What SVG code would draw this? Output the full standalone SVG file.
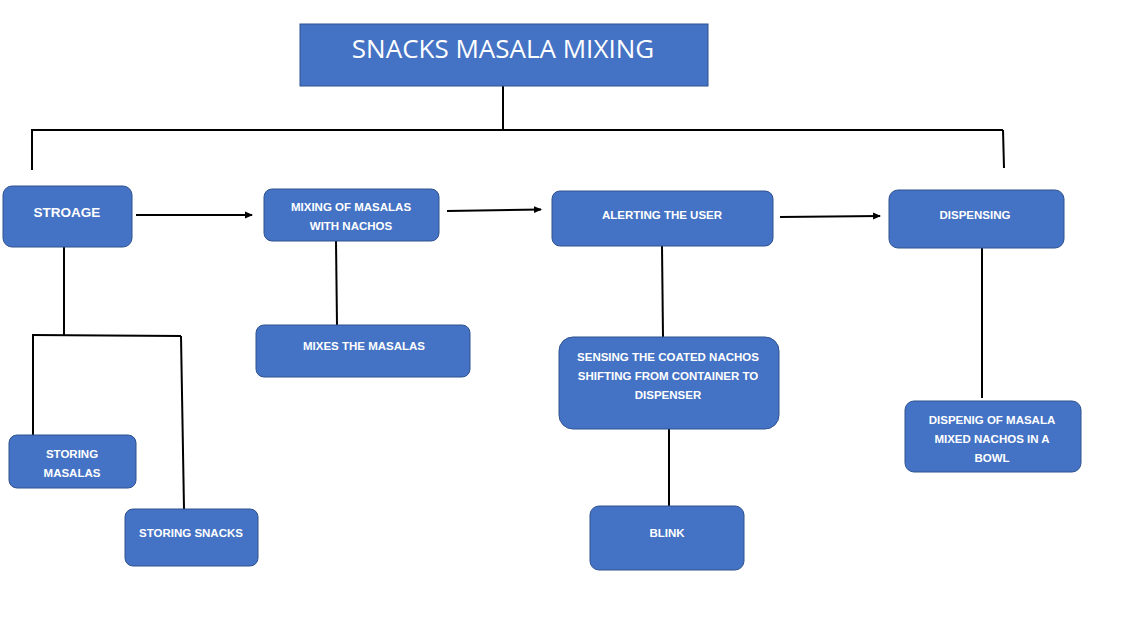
<svg xmlns="http://www.w3.org/2000/svg" width="1138" height="632" viewBox="0 0 1138 632">
<defs>
<style>
.box{fill:#4472c4;stroke:#2f528f;stroke-width:1}
.t{font-family:"Liberation Sans",Arial,sans-serif;font-weight:bold;font-size:11.5px;fill:#fff;text-anchor:middle}
.big{font-size:13.5px}
.title{font-family:"Open Sans","Liberation Sans",sans-serif;font-size:26px;fill:#fff;text-anchor:middle}
.ln{stroke:#000;stroke-width:2;fill:none}
</style>
<marker id="ah" markerWidth="8" markerHeight="8" refX="7" refY="4" orient="auto" markerUnits="userSpaceOnUse">
<path d="M0,0.5 L8,4 L0,7.5 Z" fill="#000"/>
</marker>
</defs>
<rect width="1138" height="632" fill="#fff"/>
<g id="connectors">
<path class="ln" d="M503,86 V129"/>
<path class="ln" d="M31,130 H1003"/>
<path class="ln" d="M32,130 V170"/>
<path class="ln" d="M1003,130 L1004,168"/>
<path class="ln" d="M136,215 H252" marker-end="url(#ah)"/>
<path class="ln" d="M447,211 L541,209.5" marker-end="url(#ah)"/>
<path class="ln" d="M780,217 L880,216" marker-end="url(#ah)"/>
<path class="ln" d="M64,247 V335"/>
<path class="ln" d="M32,335 L181,336"/>
<path class="ln" d="M33,335 V435"/>
<path class="ln" d="M181,336 L184,509"/>
<path class="ln" d="M336,241 L337,325"/>
<path class="ln" d="M662,246 L663,337"/>
<path class="ln" d="M669,429 V507"/>
<path class="ln" d="M982,248 V398"/>
</g>
<g id="title">
<rect class="box" x="300" y="24" width="408" height="62"/>
<text class="title" x="503" y="58">SNACKS MASALA MIXING</text>
</g>
<g id="storage">
<rect class="box" x="3" y="186" width="129" height="61" rx="9"/>
<text class="t big" x="67" y="217">STROAGE</text>
</g>
<g id="mixing">
<rect class="box" x="264" y="189" width="175" height="52" rx="8"/>
<text class="t" x="351" y="211">MIXING OF MASALAS</text>
<text class="t" x="351" y="230">WITH NACHOS</text>
</g>
<g id="alerting">
<rect class="box" x="552" y="191" width="221" height="55" rx="8"/>
<text class="t" x="662" y="219">ALERTING THE USER</text>
</g>
<g id="dispensing">
<rect class="box" x="889" y="190" width="175" height="58" rx="9"/>
<text class="t" x="975" y="219">DISPENSING</text>
</g>
<g id="storing-masalas">
<rect class="box" x="9" y="435" width="127" height="53" rx="8"/>
<text class="t" x="72" y="458">STORING</text>
<text class="t" x="72" y="477">MASALAS</text>
</g>
<g id="storing-snacks">
<rect class="box" x="125" y="509" width="133" height="57" rx="8"/>
<text class="t" x="191" y="537">STORING SNACKS</text>
</g>
<g id="mixes">
<rect class="box" x="256" y="325" width="214" height="52" rx="8"/>
<text class="t" x="364" y="350">MIXES THE MASALAS</text>
</g>
<g id="sensing">
<rect class="box" x="559" y="337" width="220" height="92" rx="14"/>
<text class="t" x="668" y="361">SENSING THE COATED NACHOS</text>
<text class="t" x="668" y="380">SHIFTING FROM CONTAINER TO</text>
<text class="t" x="668" y="399">DISPENSER</text>
</g>
<g id="blink">
<rect class="box" x="590" y="506" width="154" height="64" rx="9"/>
<text class="t" x="667" y="537">BLINK</text>
</g>
<g id="dispenig">
<rect class="box" x="905" y="401" width="176" height="71" rx="9"/>
<text class="t" x="992" y="424">DISPENIG OF MASALA</text>
<text class="t" x="992" y="443">MIXED NACHOS IN A</text>
<text class="t" x="992" y="462">BOWL</text>
</g>
</svg>
